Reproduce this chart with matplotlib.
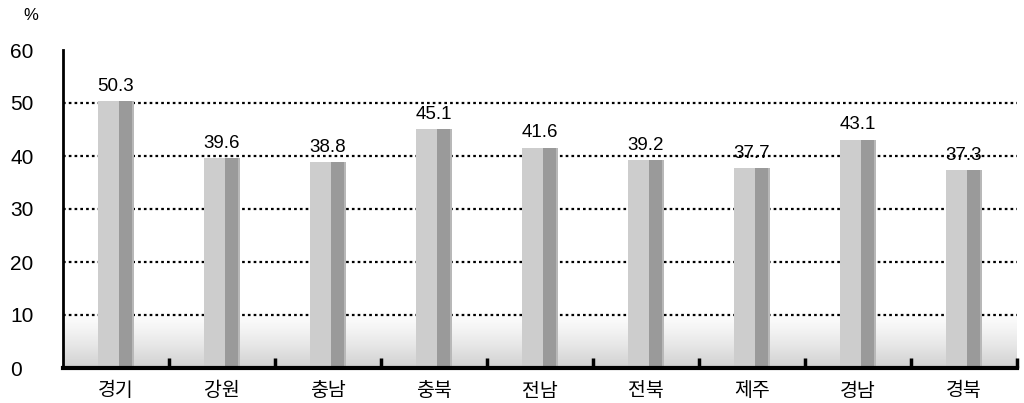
import matplotlib.pyplot as plt
import numpy as np

plt.rcParams['font.family'] = ['Liberation Sans', 'Noto Sans CJK KR', 'DejaVu Sans']

regions = ['경기', '강원', '충남', '충북', '전남', '전북', '제주', '경남', '경북']
values = [50.3, 39.6, 38.8, 45.1, 41.6, 39.2, 37.7, 43.1, 37.3]
y_ticks = [0, 10, 20, 30, 40, 50, 60]

fig = plt.figure(figsize=(10.24, 4.03), dpi=100)
ax = fig.add_axes([63 / 1024, 1 - 368 / 403, 954 / 1024, 318 / 403])

x = np.arange(len(regions))

# gray "floor" fading upward
grad = np.zeros((100, 2, 4))
grad[..., :3] = 0.55
grad[..., 3] = np.linspace(0.5, 0.0, 100)[:, None] ** 1.3
ax.imshow(grad, extent=(-0.5, len(regions) - 0.5, 0, 11), origin='lower',
          aspect='auto', zorder=1, interpolation='bilinear')

# dotted grid lines
for t in y_ticks[1:-1]:
    ax.axhline(t, color='black', lw=1.6, ls=(0, (1.2, 1.4)), zorder=2)

# bars: light front part + darker shaded stripe on the right
ax.bar(x - 0.17, values, width=0.20, align='edge', color='#cdcdcd', zorder=3)
ax.bar(x + 0.03, values, width=0.12, align='edge', color='#9a9a9a', zorder=3)
ax.bar(x + 0.15, values, width=0.02, align='edge', color='#b8b8b8', zorder=3)

for xi, v in zip(x, values):
    ax.text(xi, v + 1.2, f'{v:.1f}', ha='center', va='bottom', fontsize=13.5)

ax.set_xlim(-0.5, len(regions) - 0.5)
ax.set_ylim(0, 60)
ax.set_yticks(y_ticks)
ax.set_yticklabels([str(t) for t in y_ticks], fontsize=15)
ax.tick_params(axis='y', length=0, pad=38)
for lab in ax.get_yticklabels():
    lab.set_horizontalalignment('left')

ax.set_xticks(x)
ax.set_xticklabels(regions, fontsize=14, family=['Noto Sans CJK KR', 'DejaVu Sans'])
ax.tick_params(axis='x', length=0, pad=9)
ax.set_xticks(np.arange(0.5, len(regions), 1), minor=True)
ax.tick_params(axis='x', which='minor', direction='in', length=7, width=2.5, color='black')

for s in ['top', 'right']:
    ax.spines[s].set_visible(False)
ax.spines['bottom'].set_linewidth(3)
ax.spines['left'].set_linewidth(2)
ax.spines['left'].set_zorder(5)
ax.spines['bottom'].set_zorder(5)

fig.text(31 / 1024, 1 - 15 / 403, '%', fontsize=12, ha='center', va='center')

fig.savefig('out.png', dpi=100)
